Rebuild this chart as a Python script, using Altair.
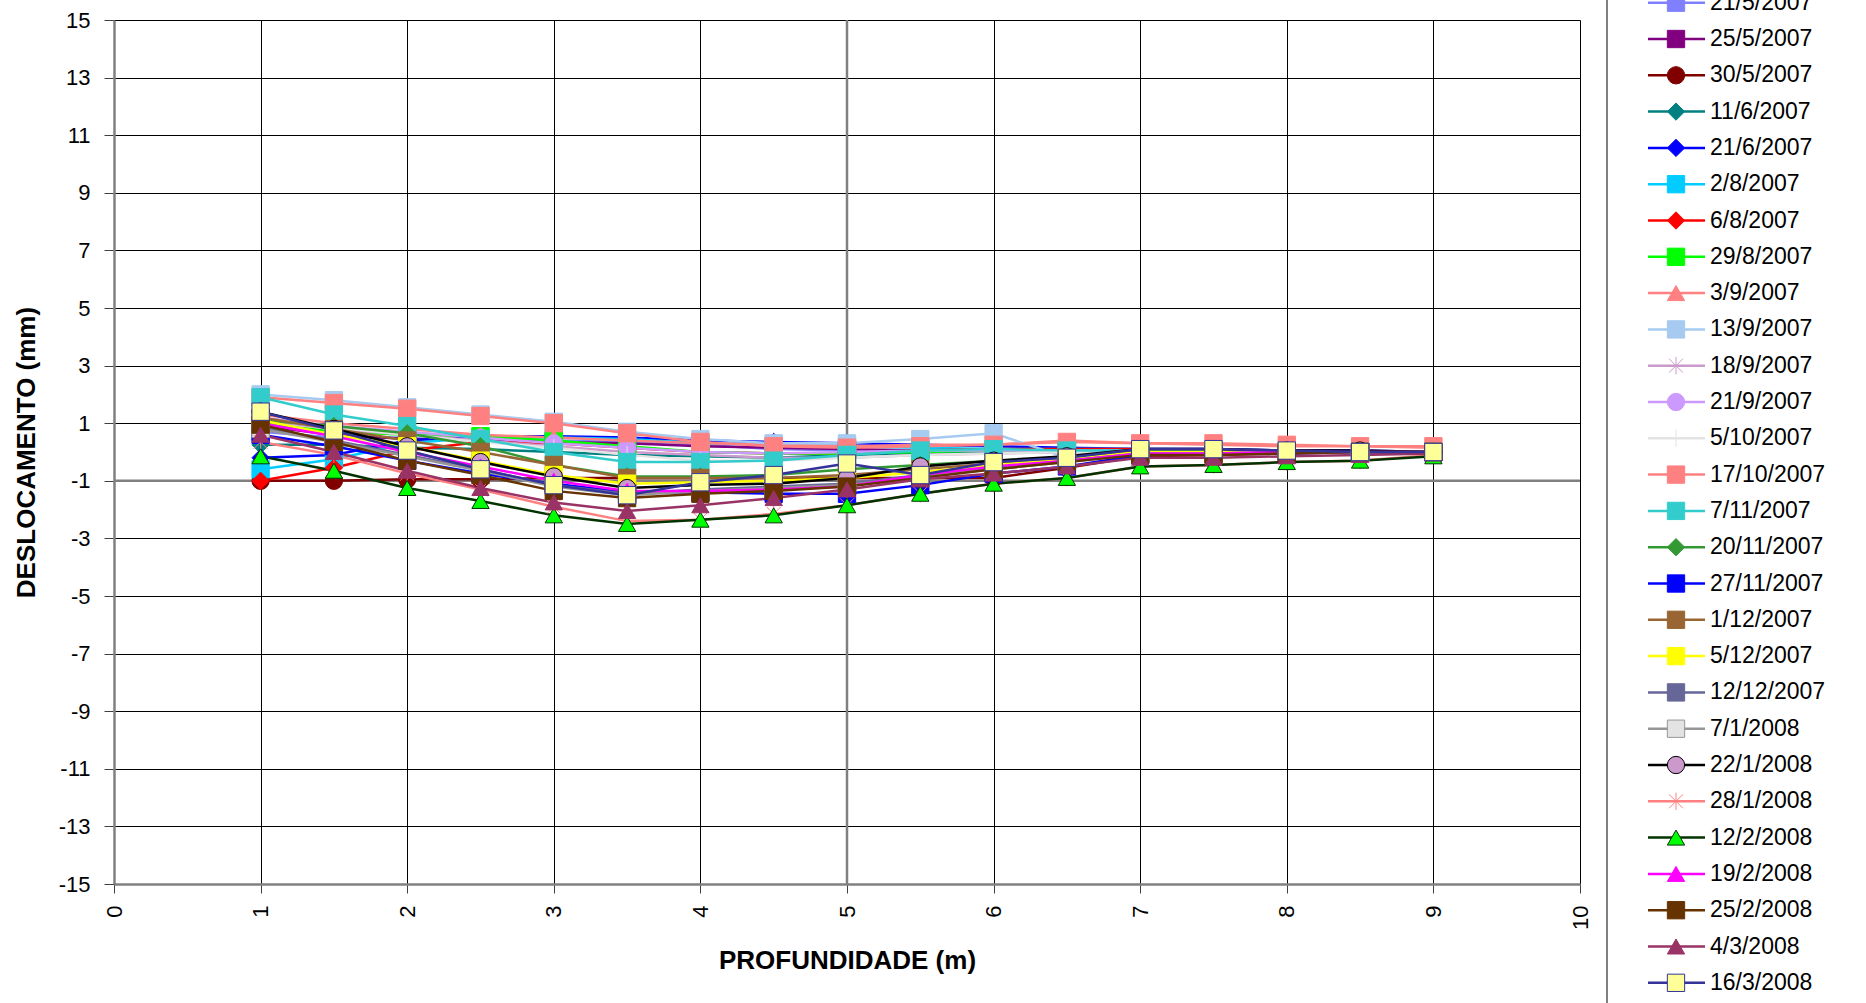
import altair as alt
import pandas as pd

depths = [1, 1.5, 2, 2.5, 3, 3.5, 4, 4.5, 5, 5.5, 6, 6.5, 7, 7.5, 8, 8.5, 9]

series_names = ["21/5/2007", "25/5/2007", "30/5/2007", "11/6/2007", "21/6/2007", "2/8/2007",
                "6/8/2007", "29/8/2007", "3/9/2007", "13/9/2007", "18/9/2007", "21/9/2007",
                "5/10/2007", "17/10/2007", "7/11/2007", "20/11/2007", "27/11/2007", "1/12/2007",
                "5/12/2007", "12/12/2007", "7/1/2008", "22/1/2008", "28/1/2008", "12/2/2008",
                "19/2/2008", "25/2/2008", "4/3/2008", "16/3/2008"]

line_colors = ["#8080FF", "#800080", "#800000", "#008080", "#0000FF", "#00CCFF",
               "#FF0000", "#00FF00", "#FF8080", "#A6CAF0", "#CC99CC", "#CC99FF",
               "#E3E3E3", "#FF8080", "#33CCCC", "#339933", "#0000FF", "#996633",
               "#FFFF00", "#666699", "#969696", "#000000", "#FF8080", "#003300",
               "#FF00FF", "#663300", "#993366", "#333399"]

fill_colors = ["#8080FF", "#800080", "#800000", "#008080", "#0000FF", "#00CCFF",
               "#FF0000", "#00FF00", "#FF8080", "#A6CAF0", "transparent", "#CC99FF",
               "transparent", "#FF8080", "#33CCCC", "#339933", "#0000FF", "#996633",
               "#FFFF00", "#666699", "#E3E3E3", "#CC99CC", "transparent", "#00FF00",
               "#FF00FF", "#663300", "#993366", "#FFFF99"]

ASTER = "M-0.8,-0.8L0.8,0.8M-0.8,0.8L0.8,-0.8M0,-1L0,1"
PLUS = "M-1,0L1,0M0,-1L0,1"
marker_shapes = ["square", "square", "circle", "diamond", "diamond", "square",
                 "diamond", "square", "triangle-up", "square", ASTER, "circle",
                 PLUS, "square", "square", "diamond", "square", "square",
                 "square", "square", "square", "circle", ASTER, "triangle-up",
                 "triangle-up", "square", "triangle-up", "square"]

marker_sizes = [300, 300, 300, 340, 340, 300, 340, 300, 420, 300, 400, 300,
                400, 300, 300, 340, 300, 300, 300, 300, 260, 420, 460, 400,
                400, 300, 420, 360]
marker_strokes = [1, 1, 1, 1, 1, 1, 1, 1, 1, 1, 2, 1,
                  2, 1, 1, 1, 1, 1, 1, 1, 2.5, 3, 2, 2.5,
                  1, 1, 1, 3]

s_21_5_2007 = [0.7, 0.5, 0.5, 0.45, 0.4, 0.35, 0.25, 0.1, 0.05, 0.05, 0.0, 0.0, 0.05, 0.05, 0.0, 0.0, 0.0]
s_25_5_2007 = [0.9, 0.6, 0.45, 0.4, 0.35, 0.3, 0.2, 0.15, 0.1, 0.05, 0.05, 0.0, 0.05, 0.05, 0.0, 0.0, 0.0]
s_30_5_2007 = [-1.0, -1.0, -0.95, -0.95, -0.9, -0.9, -0.9, -0.9, -0.9, -0.9, -0.9, -0.55, -0.15, -0.1, -0.05, 0.0, 0.0]
s_11_6_2007 = [0.25, 0.25, 0.15, 0.1, 0.0, -0.1, -0.15, -0.2, -0.1, -0.05, 0.0, 0.0, 0.05, 0.05, 0.0, 0.0, 0.0]
s_21_6_2007 = [-0.2, -0.1, 0.4, 0.55, 0.55, 0.5, 0.4, 0.35, 0.3, 0.25, 0.2, 0.15, 0.1, 0.1, 0.05, 0.05, 0.0]
s_2_8_2007 = [-0.6, -0.25, 0.3, 0.5, 0.5, 0.45, 0.3, 0.25, 0.2, 0.15, 0.1, 0.1, 0.1, 0.05, 0.05, 0.0, 0.0]
s_6_8_2007 = [-1.0, -0.55, 0.05, 0.35, 0.3, 0.15, 0.0, -0.05, -0.05, 0.05, 0.1, 0.1, 0.1, 0.05, 0.05, 0.0, 0.0]
s_29_8_2007 = [1.0, 0.7, 0.6, 0.55, 0.4, 0.2, 0.0, -0.05, -0.05, 0.0, 0.05, 0.05, 0.05, 0.05, 0.0, 0.0, 0.0]
s_3_9_2007 = [1.3, 1.0, 0.8, 0.6, 0.5, 0.4, 0.3, 0.25, 0.2, 0.25, 0.25, 0.4, 0.3, 0.25, 0.2, 0.2, 0.15]
s_13_9_2007 = [2.0, 1.8, 1.55, 1.3, 1.05, 0.7, 0.45, 0.3, 0.3, 0.45, 0.65, -0.2, 0.05, 0.05, 0.0, 0.0, 0.0]
s_18_9_2007 = [1.1, 0.8, 0.6, 0.4, 0.2, 0.0, -0.1, -0.2, -0.2, -0.1, -0.05, 0.0, 0.0, 0.0, 0.0, 0.0, 0.0]
s_21_9_2007 = [1.2, 0.9, 0.7, 0.5, 0.3, 0.15, 0.0, -0.05, 0.0, 0.05, 0.05, 0.05, 0.05, 0.05, 0.0, 0.0, 0.0]
s_5_10_2007 = [1.15, 0.85, 0.6, 0.35, 0.15, -0.1, -0.3, -0.3, -0.2, -0.1, -0.05, 0.0, 0.0, 0.0, 0.0, 0.0, 0.0]
s_17_10_2007 = [1.9, 1.7, 1.5, 1.25, 1.0, 0.65, 0.35, 0.2, 0.15, 0.2, 0.25, 0.35, 0.3, 0.3, 0.25, 0.2, 0.2]
s_7_11_2007 = [1.9, 1.3, 0.9, 0.45, 0.0, -0.35, -0.35, -0.3, -0.1, 0.05, 0.1, 0.05, 0.05, 0.05, 0.0, 0.0, 0.0]
s_20_11_2007 = [1.1, 0.9, 0.65, 0.2, -0.45, -0.85, -0.85, -0.8, -0.6, -0.45, -0.3, -0.2, 0.0, 0.0, 0.0, 0.0, 0.0]
s_27_11_2007 = [0.6, 0.2, -0.3, -0.75, -1.1, -1.4, -1.4, -1.45, -1.45, -1.15, -0.75, -0.5, -0.1, -0.05, -0.05, 0.0, 0.0]
s_1_12_2007 = [1.2, 0.8, 0.4, 0.0, -0.45, -0.9, -0.9, -0.9, -0.8, -0.6, -0.4, -0.2, 0.0, 0.0, 0.0, 0.0, 0.0]
s_5_12_2007 = [1.1, 0.6, 0.2, -0.3, -0.8, -1.1, -1.05, -1.0, -0.9, -0.7, -0.45, -0.25, 0.0, 0.0, 0.0, 0.0, 0.0]
s_12_12_2007 = [0.85, 0.4, -0.1, -0.6, -1.15, -1.45, -1.3, -1.2, -1.1, -0.8, -0.55, -0.3, -0.05, -0.05, 0.0, 0.0, 0.0]
s_7_1_2008 = [0.8, 0.35, -0.15, -0.65, -1.2, -1.5, -1.35, -1.25, -1.15, -0.85, -0.6, -0.35, -0.05, -0.05, 0.0, 0.0, 0.0]
s_22_1_2008 = [1.4, 0.8, 0.2, -0.35, -0.85, -1.25, -1.15, -1.1, -0.9, -0.5, -0.3, -0.15, 0.1, 0.1, 0.05, 0.05, 0.0]
s_28_1_2008 = [0.35, -0.1, -0.75, -1.3, -1.9, -2.4, -2.35, -2.15, -1.85, -1.45, -1.1, -0.9, -0.5, -0.45, -0.35, -0.3, -0.1]
s_12_2_2008 = [-0.15, -0.65, -1.25, -1.7, -2.2, -2.5, -2.35, -2.2, -1.85, -1.45, -1.1, -0.9, -0.5, -0.45, -0.35, -0.3, -0.15]
s_19_2_2008 = [1.0, 0.55, 0.0, -0.5, -1.0, -1.35, -1.35, -1.3, -1.2, -0.8, -0.5, -0.3, -0.05, -0.05, 0.0, 0.0, 0.0]
s_25_2_2008 = [0.95, 0.35, -0.3, -0.8, -1.35, -1.6, -1.45, -1.35, -1.2, -0.9, -0.6, -0.35, -0.1, -0.1, -0.05, 0.0, 0.0]
s_4_3_2008 = [0.6, 0.0, -0.65, -1.25, -1.75, -2.05, -1.85, -1.6, -1.3, -0.95, -0.75, -0.5, -0.2, -0.2, -0.15, -0.1, -0.05]
s_16_3_2008 = [1.4, 0.75, 0.05, -0.6, -1.15, -1.5, -1.05, -0.8, -0.4, -0.8, -0.35, -0.2, 0.1, 0.1, 0.05, 0.0, 0.0]

series_values = [s_21_5_2007, s_25_5_2007, s_30_5_2007, s_11_6_2007, s_21_6_2007, s_2_8_2007,
                 s_6_8_2007, s_29_8_2007, s_3_9_2007, s_13_9_2007, s_18_9_2007, s_21_9_2007,
                 s_5_10_2007, s_17_10_2007, s_7_11_2007, s_20_11_2007, s_27_11_2007, s_1_12_2007,
                 s_5_12_2007, s_12_12_2007, s_7_1_2008, s_22_1_2008, s_28_1_2008, s_12_2_2008,
                 s_19_2_2008, s_25_2_2008, s_4_3_2008, s_16_3_2008]

y_ticks = list(range(-15, 16, 2))
x_ticks = list(range(0, 11))
gray_h = [-1]
gray_v = [5]

rows = []
for k, (name, vals) in enumerate(zip(series_names, series_values)):
    for d, v in zip(depths, vals):
        rows.append({"series": name, "depth": d, "disp": v, "k": k})
df = pd.DataFrame(rows)
legend_df = pd.DataFrame({"series": series_names, "idx": list(range(len(series_names)))})

FONT = "Liberation Sans"
stroke_scale = alt.Scale(domain=series_names, range=line_colors)
fill_scale = alt.Scale(domain=series_names, range=fill_colors)
shape_scale = alt.Scale(domain=series_names, range=marker_shapes)
size_scale = alt.Scale(domain=series_names, range=marker_sizes)
sw_scale = alt.Scale(domain=series_names, range=marker_strokes)
x_scale = alt.Scale(domain=[0, 10], nice=False, zero=False)
y_scale = alt.Scale(domain=[-15, 15], nice=False, zero=False)

x_axis = alt.Axis(values=x_ticks, labelExpr="'' + datum.value", labelAngle=270, labelFontSize=22,
                  labelFont=FONT, labelColor="black", labelPadding=12, tickSize=9,
                  tickColor="#404040", domainColor="#808080", domainWidth=2.5, grid=True,
                  gridColor="black", gridWidth=1, title="PROFUNDIDADE (m)", titleFontSize=26,
                  titleFont=FONT, titleFontWeight="bold", titleColor="black", titleY=76,
                  titleBaseline="middle", labelOverlap=False)
y_axis = alt.Axis(values=y_ticks, labelExpr="'' + datum.value", labelFontSize=22, labelFont=FONT,
                  labelColor="black", labelPadding=14, tickSize=10, tickColor="#404040",
                  domainColor="#808080", domainWidth=2.5, grid=True, gridColor="black",
                  gridWidth=1, title="DESLOCAMENTO (mm)", titleFontSize=26, titleFont=FONT,
                  titleFontWeight="bold", titleColor="black", titleX=-88, titleY=432,
                  titleBaseline="middle", labelOverlap=False)

base = alt.Chart(df)
hline = alt.Chart(pd.DataFrame({"v": gray_h})).mark_rule(color="#808080", strokeWidth=2.5).encode(
    y=alt.Y("v:Q", scale=y_scale, axis=y_axis))
vline = alt.Chart(pd.DataFrame({"v": gray_v})).mark_rule(color="#808080", strokeWidth=2.5).encode(
    x=alt.X("v:Q", scale=x_scale, axis=x_axis))

lines = base.mark_line(strokeWidth=2.5).encode(
    x=alt.X("depth:Q", scale=x_scale, axis=x_axis),
    y=alt.Y("disp:Q", scale=y_scale, axis=y_axis),
    stroke=alt.Stroke("series:N", scale=stroke_scale, legend=None),
    detail="series:N",
    order="depth:Q",
)
points = base.mark_point(filled=True, opacity=1).encode(
    x=alt.X("depth:Q", scale=x_scale, axis=x_axis),
    y=alt.Y("disp:Q", scale=y_scale, axis=y_axis),
    stroke=alt.Stroke("series:N", scale=stroke_scale, legend=None),
    fill=alt.Fill("series:N", scale=fill_scale, legend=None),
    shape=alt.Shape("series:N", scale=shape_scale, legend=None),
    size=alt.Size("series:N", scale=size_scale, legend=None),
    strokeWidth=alt.StrokeWidth("series:N", scale=sw_scale, legend=None),
    order="k:Q",
)
main = alt.layer(hline, vline, lines, points)

ly = alt.Y("idx:Q", scale=alt.Scale(domain=[0.4766, 24.278], reverse=True, nice=False, zero=False),
           axis=None)
leg_border = alt.Chart(pd.DataFrame({"a": [0]})).mark_rule(color="#808080", strokeWidth=2).encode(
    x=alt.value(1493), y=alt.value(-30), y2=alt.value(990))
leg_lines = alt.Chart(legend_df).mark_rule(strokeWidth=2.5).encode(
    x=alt.value(1534), x2=alt.value(1591), y=ly,
    stroke=alt.Stroke("series:N", scale=stroke_scale, legend=None))
leg_pts = alt.Chart(legend_df).mark_point(filled=True, opacity=1).encode(
    x=alt.value(1562), y=ly,
    stroke=alt.Stroke("series:N", scale=stroke_scale, legend=None),
    fill=alt.Fill("series:N", scale=fill_scale, legend=None),
    shape=alt.Shape("series:N", scale=shape_scale, legend=None),
    size=alt.Size("series:N", scale=size_scale, legend=None),
    strokeWidth=alt.StrokeWidth("series:N", scale=sw_scale, legend=None))
leg_text = alt.Chart(legend_df).mark_text(align="left", baseline="middle", fontSize=23,
                                          font=FONT, color="black").encode(
    x=alt.value(1596), y=ly, text="series:N")
legend = alt.layer(leg_border, leg_lines, leg_pts, leg_text)

chart = alt.layer(main, legend).resolve_scale(y="independent").properties(
    width=1466, height=864,
    autosize=alt.AutoSizeParams(type="none"),
    padding={"left": 114, "top": 20, "right": 286, "bottom": 119},
    background="white",
).configure_view(stroke=None)

chart.save("out.html", embed_options={"renderer": "svg", "actions": False})
